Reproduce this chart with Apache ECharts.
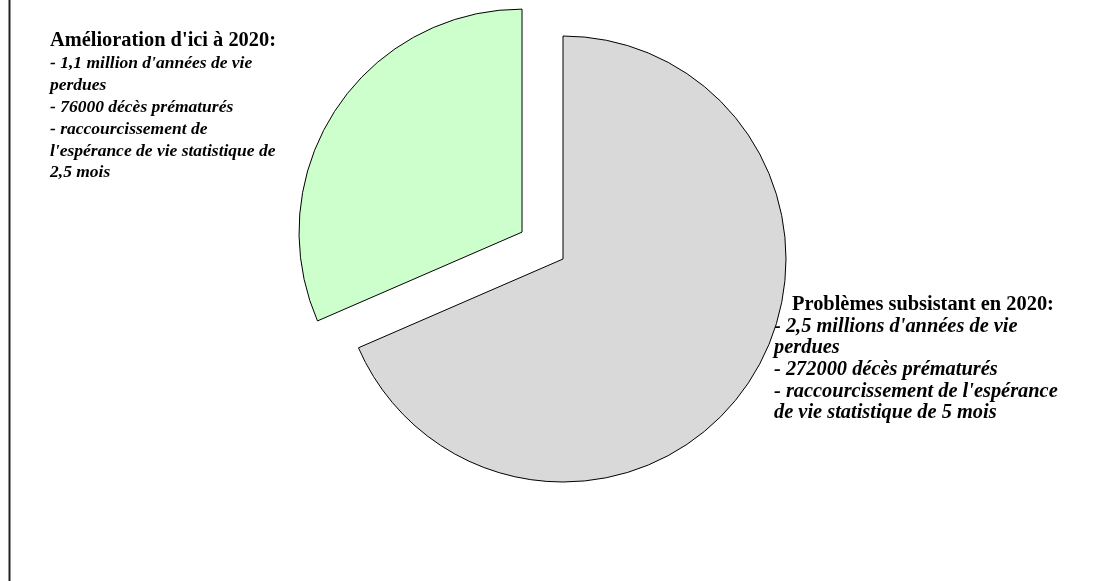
<!DOCTYPE html>
<html><head><meta charset="utf-8">
<script src="https://cdn.jsdelivr.net/npm/echarts@6/dist/echarts.min.js"></script>
<style>html,body{margin:0;padding:0;background:#fff}#c{width:1111px;height:581px}</style>
</head><body><div id="c"></div>
<script>
const categories = ["Problèmes subsistant en 2020", "Amélioration d'ici à 2020"];
const values = [2.39, 1.1];
const colors = ['#d9d9d9', '#ccffcc'];
const labelLeftTitle = "Amélioration d'ici à 2020:";
const labelLeftLines = ["- 1,1 million d'années de vie", "perdues", "- 76000 décès prématurés", "- raccourcissement de", "l'espérance de vie statistique de", "2,5 mois"];
const labelRightTitle = "Problèmes subsistant en 2020:";
const labelRightLines = ["- 2,5 millions d'années de vie", "perdues", "- 272000 décès prématurés", "- raccourcissement de l'espérance", "de vie statistique de 5 mois"];

const chart = echarts.init(document.getElementById('c'), null, {renderer: 'canvas'});
const FONT = 'Liberation Serif';
function block(x, yTitle, title, lines, xLines, lh, fsT, fsL, dyL) {
  const els = [{type:'text', left:x, top:yTitle, style:{text:title, font:'bold '+fsT+'px "'+FONT+'"', fill:'#000'}}];
  lines.forEach((t,i)=>els.push({type:'text', left:xLines, top:yTitle+dyL+lh*(i+1), style:{text:t, font:'italic bold '+fsL+'px "'+FONT+'"', fill:'#000'}}));
  return els;
}
chart.setOption({
  animation:false,
  graphic:[
    {type:'line', shape:{x1:9.5,y1:0,x2:9.5,y2:581}, style:{stroke:'#222', lineWidth:2}},
    ...block(50, 31, labelLeftTitle, labelLeftLines, 50, 21.8, 20.4, 17.5, 2),
    ...block(792, 295, labelRightTitle, labelRightLines, 774, 21.6, 20.4, 20.4, 0)
  ],
  series:[{
    type:'pie',
    center:[563,259],
    radius:223,
    startAngle:90,
    clockwise:true,
    selectedMode:'multiple',
    selectedOffset:49,
    label:{show:false},
    labelLine:{show:false},
    itemStyle:{borderColor:'#000', borderWidth:1},
    emphasis:{disabled:true},
    data: categories.map((c,i)=>({name:c, value:values[i], selected: i===1, itemStyle:{color:colors[i]}}))
  }]
});
</script></body></html>
